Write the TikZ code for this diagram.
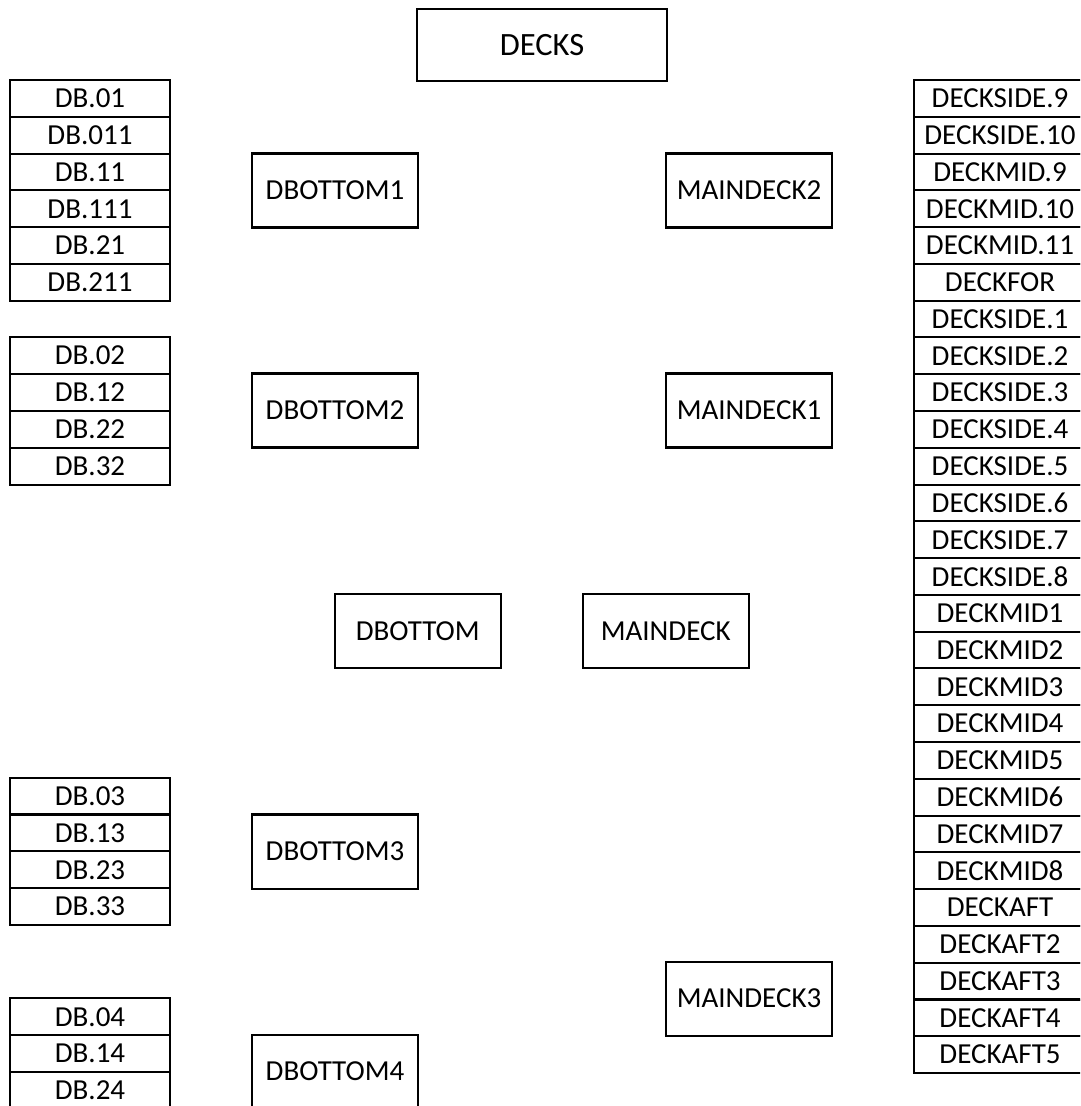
\documentclass[tikz,border=0pt]{standalone}
\usepackage{fontspec}
\setmainfont{Carlito}
\usetikzlibrary{positioning}
\tikzset{
  deckbox/.style={rectangle, draw=black, line width=1.15pt, fill=white, outer sep=0pt,
                  inner sep=0pt, align=center, font=\fontsize{16.5}{19}\selectfont},
  grpbox/.style={deckbox, minimum width=3.32cm, minimum height=1.48cm},
  cellL/.style={deckbox, minimum width=3.2cm, minimum height=0.736cm},
  cellR/.style={deckbox, minimum width=3.44cm, minimum height=0.736cm},
}

\begin{document}
\begin{tikzpicture}
    \clip (0,0) rectangle (21.6,-22.12);
    \node[deckbox, minimum width=5cm, minimum height=1.44cm,
          font=\fontsize{18.5}{21}\selectfont] (decks) at (10.84,-0.9) {DECKS};
    % groups of the double bottom
    \node[grpbox] (dbot1) at (6.7,-3.81) {DBOTTOM1};
    \node[grpbox, below=2.92cm of dbot1] (dbot2) {DBOTTOM2};
    \node[grpbox] (dbot) at (8.354,-12.62) {DBOTTOM};
    \node[grpbox, right=1.64cm of dbot] (main) {MAINDECK};
    \node[grpbox] (dbot3) at (6.7,-17.03) {DBOTTOM3};
    \node[grpbox, below=2.92cm of dbot3] (dbot4) {DBOTTOM4};
    % groups of the main deck
    \node[grpbox, right=4.96cm of dbot1] (md2) {MAINDECK2};
    \node[grpbox, right=4.96cm of dbot2] (md1) {MAINDECK1};
    \node[grpbox] (md3) at (14.98,-19.97) {MAINDECK3};
    % left lists
    \foreach \lbl [count=\i] in {DB.01,DB.011,DB.11,DB.111,DB.21,DB.211}
      \node[cellL] (dbA\i) at (1.8,{-1.6-0.736*(\i-0.5)}) {\lbl};
    \foreach \lbl [count=\i] in {DB.02,DB.12,DB.22,DB.32}
      \node[cellL] (dbB\i) at (1.8,{-6.734-0.74*(\i-0.5)}) {\lbl};
    \foreach \lbl [count=\i] in {DB.03,DB.13,DB.23,DB.33}
      \node[cellL] (dbC\i) at (1.8,{-15.554-0.736*(\i-0.5)}) {\lbl};
    \foreach \lbl [count=\i] in {DB.04,DB.14,DB.24}
      \node[cellL] (dbD\i) at (1.8,{-19.966-0.736*(\i-0.5)}) {\lbl};
    % right list
    \foreach \lbl [count=\i] in {DECKSIDE.9,DECKSIDE.10,DECKMID.9,DECKMID.10,DECKMID.11,
        DECKFOR,DECKSIDE.1,DECKSIDE.2,DECKSIDE.3,DECKSIDE.4,DECKSIDE.5,DECKSIDE.6,
        DECKSIDE.7,DECKSIDE.8,DECKMID1,DECKMID2,DECKMID3,DECKMID4,DECKMID5,DECKMID6,
        DECKMID7,DECKMID8,DECKAFT,DECKAFT2,DECKAFT3,DECKAFT4,DECKAFT5}
      \node[cellR] (dk\i) at (20.0,{-1.6-0.7356*(\i-0.5)}) {\lbl};
\end{tikzpicture}
\end{document}
